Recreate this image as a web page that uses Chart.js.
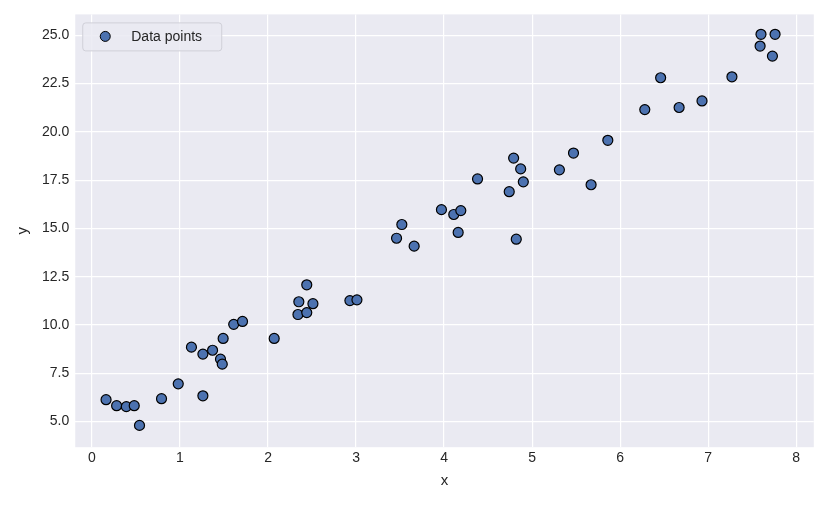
<!DOCTYPE html>
<html><head><meta charset="utf-8">
<script src="https://cdn.jsdelivr.net/npm/chart.js@4/dist/chart.umd.min.js"></script>
<style>html,body{margin:0;padding:0;background:#fff}#w{width:820px;height:506px}</style>
</head><body><div id="w"><canvas id="c"></canvas></div>
<script>
const xValues=[0.16,0.28,0.39,0.48,0.54,0.79,0.98,1.13,1.26,1.26,1.37,1.46,1.48,1.49,1.61,1.71,2.07,2.34,2.35,2.44,2.44,2.51,2.93,3.01,3.46,3.52,3.66,3.97,4.11,4.16,4.19,4.38,4.74,4.79,4.82,4.87,4.90,5.31,5.47,5.67,5.86,6.28,6.46,6.67,6.93,7.27,7.59,7.60,7.73,7.76];
const yValues=[6.13,5.82,5.77,5.82,4.8,6.18,6.95,8.85,8.49,6.33,8.69,8.23,7.97,9.3,10.03,10.18,9.3,10.54,11.2,10.64,12.08,11.1,11.26,11.3,14.49,15.2,14.08,15.97,15.72,14.79,15.92,17.56,16.9,18.64,14.44,18.08,17.41,18.03,18.9,17.26,19.56,21.15,22.8,21.26,21.6,22.85,24.44,25.05,23.92,25.05];
const seriesName='Data points';
const font={family:'"Liberation Sans", Arial, sans-serif',size:14};
const bg={id:'bg',beforeDraw(c){const a=c.chartArea,x=c.ctx;x.save();x.fillStyle='#EAEAF2';x.fillRect(a.left,a.top,a.right-a.left,a.bottom-a.top);x.restore();}};
const leg={id:'leg',afterDraw(c){const a=c.chartArea,x=c.ctx;x.save();
const L=a.left+7,T=a.top+8,W=139,H=28;
x.fillStyle='rgba(234,234,242,0.85)';x.strokeStyle='#d0d0d8';x.lineWidth=1;
x.beginPath();x.roundRect(L+0.5,T+0.5,W,H,3);x.fill();x.stroke();
x.beginPath();x.arc(L+23,T+14,5,0,Math.PI*2);x.fillStyle='#4C72B0';x.fill();x.strokeStyle='#000';x.stroke();
x.fillStyle='#262626';x.font='14px "Liberation Sans", Arial, sans-serif';x.textBaseline='middle';x.fillText(seriesName,L+49,T+15);x.restore();}};
new Chart(document.getElementById('c'),{type:'scatter',
data:{datasets:[{label:seriesName,data:xValues.map((v,i)=>({x:v,y:yValues[i]})),backgroundColor:'#4C72B0',borderColor:'#000',borderWidth:1.2,pointRadius:5,pointHoverRadius:5}]},
options:{responsive:true,maintainAspectRatio:false,animation:false,
layout:{padding:{left:10,right:5,top:7,bottom:12}},
plugins:{legend:{display:false},tooltip:{enabled:false}},
scales:{
x:{min:-0.19,max:8.2,ticks:{stepSize:1,includeBounds:false,color:'#262626',font},grid:{color:'#fff',lineWidth:1.2,drawTicks:false},border:{display:false},title:{display:true,text:'x',color:'#262626',font:{...font,size:15},padding:{top:2}}},
y:{min:3.67,max:26.08,ticks:{stepSize:2.5,includeBounds:false,color:'#262626',font,callback:v=>v.toFixed(1),padding:6},grid:{color:'#fff',lineWidth:1.2,drawTicks:false},border:{display:false},title:{display:true,text:'y',color:'#262626',font:{...font,size:15}}}
}},plugins:[bg,leg]});
</script></body></html>
